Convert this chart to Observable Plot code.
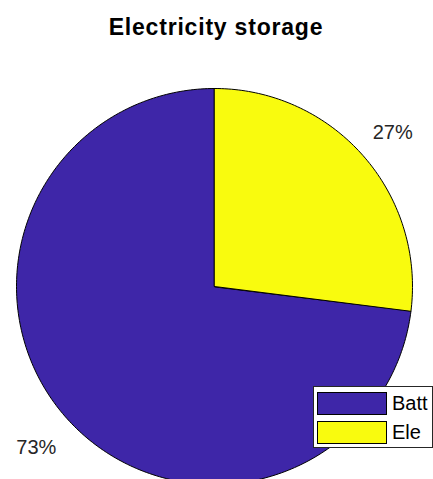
<!DOCTYPE html>
<html>
<head>
<meta charset="utf-8">
<script src="https://cdn.jsdelivr.net/npm/d3@7"></script>
<script src="https://cdn.jsdelivr.net/npm/@observablehq/plot@0.6"></script>
<style>
  body { margin: 0; background: #fff; font-family: "Liberation Sans", Arial, sans-serif; }
  #wrap { position: relative; width: 433px; height: 479px; overflow: hidden; }
  #legend { position: absolute; left: 313px; top: 386px; width: 120px; height: 62px;
            border: 1px solid #262626; background: #fff; box-sizing: border-box; }
  .item { position: absolute; left: 3px; height: 24px; display: flex; align-items: center; }
  .sw { width: 70px; height: 23px; box-sizing: border-box; border: 1px solid #000; }
  .lab { margin-left: 5px; font-size: 20px; color: #000; line-height: 1; }
</style>
</head>
<body>
<div id="wrap"></div>
<script>
const title = "Electricity storage";
const categories = ["Batt", "Ele"];
const values = [73, 27];
const colors = ["#3E26A8", "#F9FB0E"];

const total = d3.sum(values);
// MATLAB-style pie: starts at the top, goes counter-clockwise
let acc = 0;
const slices = categories.map((c, i) => {
  const t0 = acc / total * 2 * Math.PI;
  acc += values[i];
  const t1 = acc / total * 2 * Math.PI;
  const n = Math.max(2, Math.ceil((t1 - t0) / (Math.PI / 180)));
  const ring = [[0, 0]];
  for (let k = 0; k <= n; ++k) {
    const t = t0 + (t1 - t0) * k / n;
    ring.push([-Math.sin(t), Math.cos(t)]);
  }
  ring.push([0, 0]);
  const tm = (t0 + t1) / 2;
  return {
    type: "Feature",
    properties: {name: c, pct: Math.round(values[i] / total * 100) + "%",
                 lx: -1.2 * Math.sin(tm), ly: 1.2 * Math.cos(tm)},
    geometry: {type: "Polygon", coordinates: [ring]}
  };
});

const projection = d3.geoIdentity().reflectY(true).scale(198).translate([214, 286]);

const chart = Plot.plot({
  width: 433,
  height: 479,
  margin: 0,
  projection,
  style: {fontFamily: '"Liberation Sans", Arial, sans-serif', background: "#fff"},
  color: {domain: categories, range: colors},
  marks: [
    Plot.geo(slices, {fill: d => d.properties.name, stroke: "#000", strokeWidth: 1}),
    Plot.text(slices, {x: d => d.properties.lx, y: d => d.properties.ly, text: d => d.properties.pct,
                       fontSize: 20, fill: "#262626", textAnchor: "middle", lineAnchor: "middle", dy: 3.5}),
    Plot.text([title], {frameAnchor: "top", lineAnchor: "middle", dy: 27, dx: -1, fontSize: 23,
                        fontWeight: "bold", fill: "#000"})
  ]
});
chart.querySelectorAll("text").forEach(t => {
  if (t.textContent === title) t.style.letterSpacing = "0.8px";
});
document.getElementById("wrap").appendChild(chart);

const legend = document.createElement("div");
legend.id = "legend";
categories.forEach((c, i) => {
  const item = document.createElement("div");
  item.className = "item";
  item.style.top = (4 + i * 29) + "px";
  const sw = document.createElement("div");
  sw.className = "sw";
  sw.style.background = colors[i];
  const lab = document.createElement("span");
  lab.className = "lab";
  lab.textContent = c;
  item.appendChild(sw);
  item.appendChild(lab);
  legend.appendChild(item);
});
document.getElementById("wrap").appendChild(legend);
</script>
</body>
</html>
